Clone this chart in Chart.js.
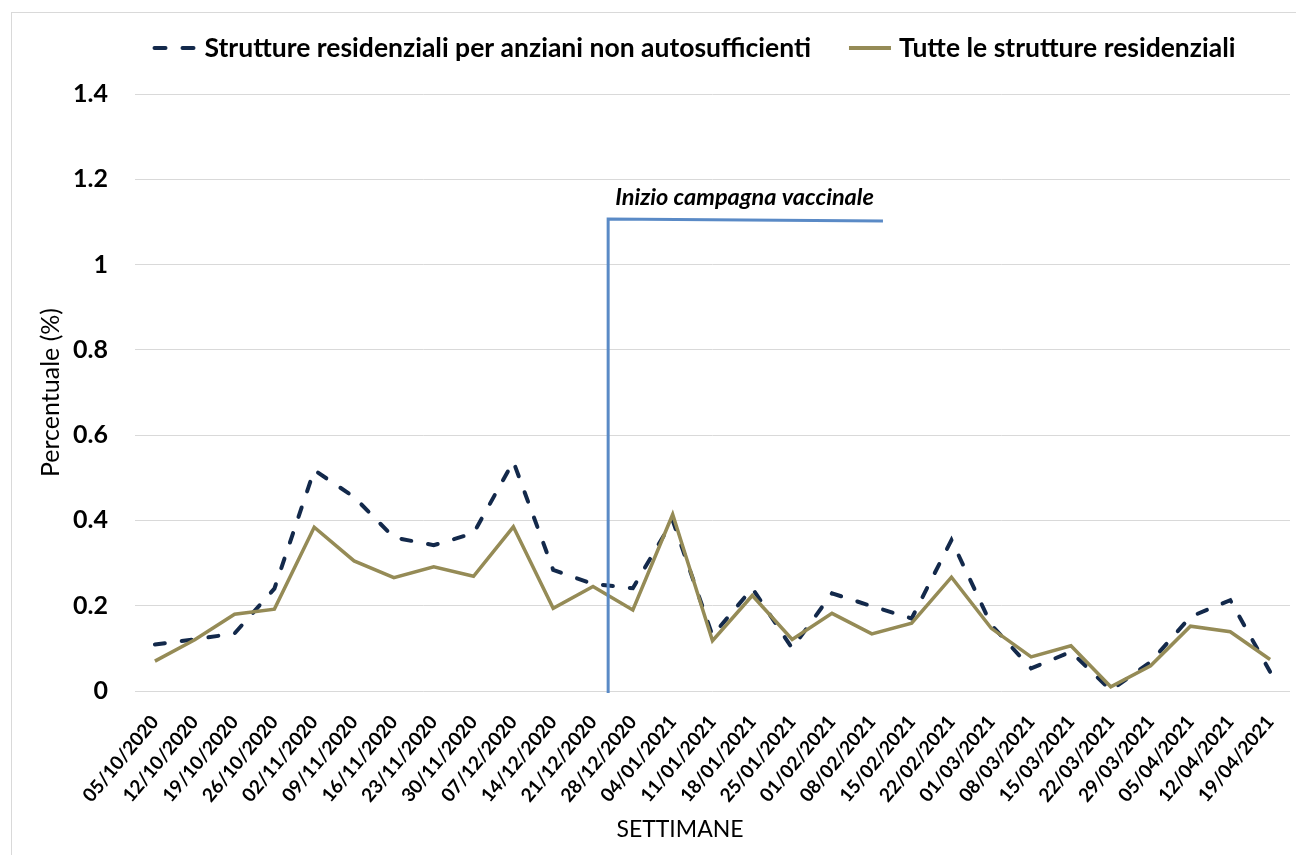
<!DOCTYPE html>
<html>
<head>
<meta charset="utf-8">
<script src="https://cdn.jsdelivr.net/npm/chart.js@4"></script>
<style>
html,body{margin:0;padding:0;background:#fff;}
#wrap{position:relative;width:1296px;height:855px;}
</style>
</head>
<body>
<div id="wrap"><canvas id="c" width="1296" height="855"></canvas></div>
<script>
const weeks = ['05/10/2020','12/10/2020','19/10/2020','26/10/2020','02/11/2020','09/11/2020','16/11/2020','23/11/2020','30/11/2020','07/12/2020','14/12/2020','21/12/2020','28/12/2020','04/01/2021','11/01/2021','18/01/2021','25/01/2021','01/02/2021','08/02/2021','15/02/2021','22/02/2021','01/03/2021','08/03/2021','15/03/2021','22/03/2021','29/03/2021','05/04/2021','12/04/2021','19/04/2021'];
const anziani = [0.109,0.121,0.135,0.24,0.518,0.455,0.36,0.342,0.37,0.538,0.284,0.251,0.241,0.40,0.13,0.241,0.10,0.229,0.199,0.17,0.354,0.155,0.053,0.092,0.002,0.068,0.174,0.213,0.045];
const tutte = [0.070,0.120,0.180,0.192,0.384,0.305,0.266,0.291,0.269,0.385,0.194,0.245,0.190,0.414,0.118,0.224,0.121,0.182,0.134,0.159,0.267,0.147,0.080,0.106,0.010,0.059,0.152,0.139,0.074];
const seriesNames = ['Strutture residenziali per anziani non autosufficienti','Tutte le strutture residenziali'];
const yTicks = [0, 0.2, 0.4, 0.6, 0.8, 1, 1.2, 1.4];
// vaccination campaign marker: category position and values
const vaccX = [11.38, 11.38, 18.28];
const vaccY = [0, 1.107, 1.102];
const vaccLabel = 'Inizio campagna vaccinale';
const xTitle = 'SETTIMANE';
const yTitle = 'Percentuale (%)';

const NAVY = '#13294b', GOLD = '#958b56', BLUE = '#5a8ac6', GRID = '#d9d9d9';
const FONT = 'Lato, "Open Sans", sans-serif';

const framePlugin = {
  id: 'frame',
  beforeDraw(chart) {
    const ctx = chart.ctx;
    ctx.save();
    ctx.fillStyle = '#fff';
    ctx.fillRect(0, 0, chart.width, chart.height);
    ctx.strokeStyle = '#d9d9d9';
    ctx.lineWidth = 1;
    ctx.strokeRect(11.5, 12.5, 1400, 1000);
    ctx.restore();
  },
  afterDraw(chart) {
    const ctx = chart.ctx;
    ctx.save();
    ctx.fillStyle = '#000';
    ctx.font = '23px ' + FONT;
    ctx.textAlign = 'center';
    ctx.textBaseline = 'middle';
    ctx.fillText(xTitle, 680, 830);
    ctx.restore();
  }
};

const vaccPlugin = {
  id: 'vacc',
  afterDatasetsDraw(chart) {
    const ctx = chart.ctx, xs = chart.scales.x, ys = chart.scales.y;
    ctx.save();
    ctx.strokeStyle = BLUE;
    ctx.lineWidth = 3;
    ctx.beginPath();
    for (let i = 0; i < vaccX.length; i++) {
      const px = xs.getPixelForValue(vaccX[i]);
      const py = ys.getPixelForValue(vaccY[i]);
      if (i === 0) ctx.moveTo(px, py + 2); else ctx.lineTo(px, py);
    }
    ctx.stroke();
    const x0 = xs.getPixelForValue(vaccX[1]);
    const x1 = xs.getPixelForValue(vaccX[2]);
    const yT = ys.getPixelForValue(vaccY[1]);
    ctx.fillStyle = '#000';
    ctx.font = 'italic bold 23.5px ' + FONT;
    ctx.textAlign = 'center';
    ctx.textBaseline = 'alphabetic';
    ctx.fillText(vaccLabel, (x0 + x1) / 2 - 1, yT - 14);
    ctx.restore();
  }
};

const legendPlugin = {
  id: 'customLegend',
  afterDraw(chart) {
    const ctx = chart.ctx;
    ctx.save();
    ctx.font = 'bold 26.5px ' + FONT;
    const w0 = ctx.measureText(seriesNames[0]).width;
    const w1 = ctx.measureText(seriesNames[1]).width;
    const sym = 42, gap = 10, between = 38;
    const total = sym + gap + w0 + between + sym + gap + w1;
    let x = 695 - total / 2;
    const y = 48;
    ctx.strokeStyle = NAVY; ctx.lineWidth = 4; ctx.lineCap = 'round';
    ctx.setLineDash([11, 17]);
    ctx.beginPath(); ctx.moveTo(x + 2, y); ctx.lineTo(x + sym, y); ctx.stroke();
    ctx.setLineDash([]);
    x += sym + gap;
    ctx.fillStyle = '#000'; ctx.textBaseline = 'alphabetic'; ctx.textAlign = 'left';
    ctx.fillText(seriesNames[0], x, 57);
    x += w0 + between;
    ctx.strokeStyle = GOLD; ctx.lineWidth = 4; ctx.lineCap = 'butt';
    ctx.beginPath(); ctx.moveTo(x, y); ctx.lineTo(x + sym, y); ctx.stroke();
    x += sym + gap - 2;
    ctx.fillText(seriesNames[1], x, 57);
    ctx.restore();
  }
};

new Chart(document.getElementById('c'), {
  type: 'line',
  data: {
    labels: weeks,
    datasets: [
      { label: seriesNames[0], data: anziani, borderColor: NAVY, borderWidth: 4,
        borderDash: [10, 17], borderCapStyle: 'round', pointRadius: 0, tension: 0, fill: false, order: 1 },
      { label: seriesNames[1], data: tutte, borderColor: GOLD, borderWidth: 3.5,
        pointRadius: 0, tension: 0, fill: false, order: 0 }
    ]
  },
  options: {
    responsive: false,
    animation: false,
    layout: { padding: { top: 94, left: 20, right: 6, bottom: 10 } },
    plugins: { legend: { display: false }, tooltip: { enabled: false } },
    scales: {
      x: {
        offset: true,
        grid: { display: false, drawTicks: false },
        border: { display: false },
        ticks: { color: '#000', font: { family: FONT, weight: 'bold', size: 19 }, minRotation: 50, maxRotation: 50, autoSkip: false, padding: 20 },
        afterFit(s) { s.height = 845 - 691; s.paddingLeft = 0; s.paddingRight = 0; }
      },
      y: {
        min: 0, max: 1.4,
        afterBuildTicks(s) { s.ticks = yTicks.map(v => ({ value: v })); },
        grid: { color: GRID, lineWidth: 1, drawTicks: false },
        border: { display: false },
        ticks: { color: '#000', font: { family: FONT, weight: 'bold', size: 25 }, padding: 27,
          callback: v => String(v) },
        title: { display: true, text: yTitle, color: '#000', font: { family: FONT, size: 25 }, padding: { top: 16, bottom: 0 } },
        afterFit(s) { s.width = 135 - 20; }
      }
    }
  },
  plugins: [framePlugin, vaccPlugin, legendPlugin]
});
</script>
</body>
</html>
